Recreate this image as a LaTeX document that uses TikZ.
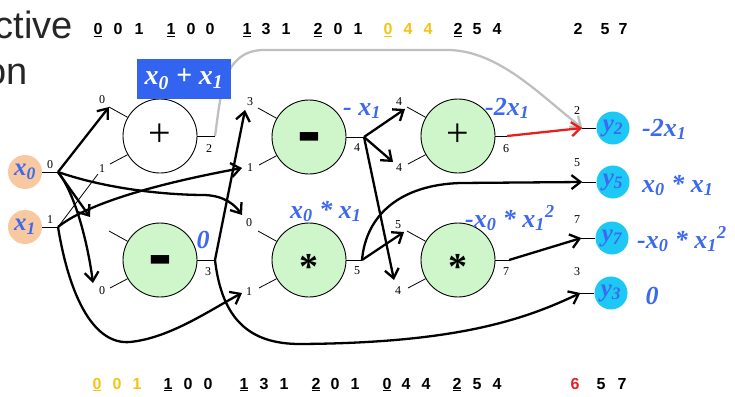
\documentclass[tikz,border=0pt]{standalone}
\usepackage{fontspec}
\setmainfont{Liberation Serif}
\newfontfamily\sansf{Liberation Sans}
\usetikzlibrary{arrows.meta,calc}

\definecolor{gatefill}{RGB}{206,246,202}
\definecolor{infill}{RGB}{248,200,160}
\definecolor{outfill}{RGB}{30,200,245}
\definecolor{exprblue}{RGB}{60,105,240}
\definecolor{boxblue}{RGB}{50,100,240}
\definecolor{seqyellow}{RGB}{245,195,20}
\definecolor{seqred}{RGB}{230,30,30}

\newcommand{\exprfont}{\fontsize{26}{26}\selectfont\bfseries\itshape}
\newcommand{\seqfont}{\sansf\fontsize{16}{16}\selectfont\bfseries}

\tikzset{
  gate/.style={circle, draw, line width=0.9pt, minimum size=74pt, inner sep=0pt, fill=gatefill},
  opsym/.style={anchor=base, inner sep=0pt},
  innode/.style={circle, fill=infill, minimum size=34pt, inner sep=0pt, text=exprblue, font=\fontsize{25}{25}\selectfont\bfseries\itshape},
  outnode/.style={circle, fill=outfill, minimum size=33pt, inner sep=0pt, text=exprblue, font=\fontsize{25}{25}\selectfont\bfseries\itshape},
  plbl/.style={inner sep=0pt, font=\fontsize{12}{12}\selectfont},
  expr/.style={inner sep=0pt, anchor=base west, text=exprblue, font=\exprfont},
  seqd/.style={inner sep=0pt, anchor=base, font=\seqfont},
  stub/.style={line width=0.8pt},
  wire/.style={line width=2.3pt, -{Straight Barb[length=9pt,width=14pt]}},
  thinwire/.style={line width=0.8pt},
  redwire/.style={wire, draw=seqred},
  graywire/.style={wire, draw=black!25},
  bigtxt/.style={inner sep=0pt, anchor=base east, font=\sansf\fontsize{38}{38}\selectfont, text=black!85},
  minussym/.style={opsym, font=\sansf\fontsize{72}{72}\selectfont\bfseries},
  plussym/.style={opsym, font=\fontsize{40}{40}\selectfont},
  starsym/.style={opsym, font=\fontsize{38}{38}\selectfont\bfseries},
}

\begin{document}
\begin{tikzpicture}[x=1pt, y=-1pt]
\useasboundingbox (0,0) rectangle (735,396);
\clip (0,0) rectangle (735,396);

% heading fragments at the left edge
\node[bigtxt] (hdrA) at (73,38) {ctive};
\node[bigtxt] (hdrB) at (28,84) {on};

% encoded instruction sequences
\foreach \x/\d/\c/\u [count=\k] in {
  98/0/black/1, 118/0/black/0, 139/1/black/0,
  171/1/black/1, 191/0/black/0, 210/0/black/0,
  247/1/black/1, 266/3/black/0, 286/1/black/0,
  318/2/black/1, 338/0/black/0, 358/1/black/0,
  388/0/seqyellow/1, 408/4/seqyellow/0, 428/4/seqyellow/0,
  458/2/black/1, 477/5/black/0, 497/4/black/0,
  578/2/black/0, 605/5/black/0, 623/7/black/0}
  \node[seqd, text=\c] (top\k) at (\x,35) {\ifnum\u=1 \underline{\d}\else\d\fi};

\foreach \x/\d/\c/\u [count=\k] in {
  97/0/seqyellow/1, 117/0/seqyellow/0, 137/1/seqyellow/0,
  168/1/black/1, 188/0/black/0, 208/0/black/0,
  244/1/black/1, 264/3/black/0, 284/1/black/0,
  316/2/black/1, 335/0/black/0, 355/1/black/0,
  387/0/black/1, 406/4/black/0, 426/4/black/0,
  457/2/black/1, 477/5/black/0, 497/4/black/0,
  575/6/seqred/0, 601/5/black/0, 622/7/black/0}
  \node[seqd, text=\c] (bot\k) at (\x,389) {\ifnum\u=1 \underline{\d}\else\d\fi};

% inputs
\node[innode] (X0) at (25,172) {x\textsubscript{0}};
\node[innode] (X1) at (25,227) {x\textsubscript{1}};
\coordinate (X0-o) at (58,172);
\coordinate (X1-o) at (58,227);
\draw[stub] (X0.east) -- (X0-o);
\draw[stub] (X1.east) -- (X1-o);
\node[plbl] (X0-l) at (50,165) {0};
\node[plbl] (X1-l) at (50,220) {1};

% gates
\node[gate, fill=white] (P1) at (160,136) {};
\node[gate] (M2) at (160,260) {};
\node[gate] (M1) at (309,137) {};
\node[gate] (S1) at (309,260) {};
\node[gate] (A2) at (458,136) {};
\node[gate] (S2) at (458,260) {};

\node[plussym] (P1s) at ($(P1)+(0,10)$) {+};
\node[minussym] (M2s) at ($(M2)+(0,18)$) {-};
\node[minussym] (M1s) at ($(M1)+(0,18)$) {-};
\node[starsym] (S1s) at ($(S1)+(0,19)$) {*};
\node[plussym] (A2s) at ($(A2)+(0,10)$) {+};
\node[starsym] (S2s) at ($(S2)+(0,19)$) {*};

% input and output stubs of every gate
\foreach \g/\o in {P1/55, M2/55, M1/55, S1/53, A2/49, S2/51} {
  \coordinate (\g-a) at ($(\g)+(-51,-29)$);
  \coordinate (\g-b) at ($(\g)+(-50,28)$);
  \coordinate (\g-o) at ($(\g)+(\o,0)$);
  \draw[stub] (\g.150) -- (\g-a);
  \draw[stub] (\g.210) -- (\g-b);
  \draw[stub] (\g.east) -- (\g-o);
}

% port numbers
\node[plbl] (P1-la) at (102,100) {0};
\node[plbl] (P1-lb) at (102,169) {1};
\node[plbl] (P1-lo) at (209,149) {2};
\node[plbl] (M2-lb) at (102,291) {0};
\node[plbl] (M2-lo) at (208,272) {3};
\node[plbl] (M1-la) at (250,102) {3};
\node[plbl] (M1-lb) at (250,168) {1};
\node[plbl] (M1-lo) at (357,148) {4};
\node[plbl] (S1-la) at (249,223) {0};
\node[plbl] (S1-lb) at (249,292) {1};
\node[plbl] (S1-lo) at (357,271) {5};
\node[plbl] (A2-la) at (399,102) {4};
\node[plbl] (A2-lb) at (399,168) {4};
\node[plbl] (A2-lo) at (506,149) {6};
\node[plbl] (S2-la) at (398,225) {5};
\node[plbl] (S2-lb) at (398,291) {4};
\node[plbl] (S2-lo) at (506,272) {7};

% outputs
\node[outnode] (Y2) at (613,128) {y\textsubscript{2}};
\node[outnode] (Y5) at (613,182) {y\textsubscript{5}};
\node[outnode] (Y7) at (612,238) {y\textsubscript{7}};
\node[outnode] (Y3) at (611,293) {y\textsubscript{3}};
\foreach \y in {Y2, Y5, Y7, Y3} {
  \coordinate (\y-i) at ($(\y.west)+(-14,0)$);
  \draw[stub] (\y-i) -- (\y.west);
}
\node[plbl] (Y2-l) at (577,111) {2};
\node[plbl] (Y5-l) at (577,163) {5};
\node[plbl] (Y7-l) at (577,220) {7};
\node[plbl] (Y3-l) at (577,272) {3};

% arrow ends that stop short of a port stub
\coordinate (M2-t) at (90,217);
\coordinate (M2-bt) at (93,283);
\coordinate (P1-bt) at (98,174);
\coordinate (M1-at) at (245,110);
\coordinate (M1-bt) at (242,168);
\coordinate (S1-at) at (242,215);
\coordinate (S1-bt) at (242,293);
\coordinate (A2-at) at (405,109);
\coordinate (A2-bt) at (393,162);
\coordinate (S2-at) at (404,232);
\coordinate (S2-bt) at (394,280);

% wires
\draw[graywire] (P1-o) .. controls (221,95) and (222,52) .. (262,50) -- (450,50)
  .. controls (500,52) and (540,95) .. (Y2-i);
\draw[wire] (X0-o) -- (P1-a);
\draw[wire] (X0-o) -- (M2-t);
\draw[wire] (X0-o) .. controls (76,195) and (88,245) .. (M2-bt);
\draw[wire] (X0-o) .. controls (110,190) and (170,195) .. (205,195)
  .. controls (225,196) and (235,205) .. (S1-at);
\draw[thinwire] (X1-o) -- (P1-bt);
\draw[wire] (X1-o) .. controls (85,205) and (150,185) .. (M1-bt);
\draw[wire] (X1-o) .. controls (70,300) and (95,345) .. (130,342)
  .. controls (170,338) and (210,310) .. (S1-bt);
\draw[wire] (M2-o) -- (M1-at);
\draw[wire] (M2-o) .. controls (222,320) and (250,344) .. (300,344)
  .. controls (450,343) and (520,322) .. (Y3-i);
\draw[wire] (M1-o) -- (A2-at);
\draw[wire] (M1-o) -- (A2-bt);
\draw[wire] (M1-o) -- (S2-bt);
\draw[wire] (S1-o) -- (S2-at);
\draw[wire] (S1-o) .. controls (366,215) and (400,185) .. (460,183) -- (Y5-i);
\draw[redwire] (A2-o) -- (Y2-i);
\draw[wire] (S2-o) -- (Y7-i);

% running expression of the sum gate
\node[fill=boxblue, minimum width=94pt, minimum height=40pt, inner sep=0pt,
      text=white, font=\fontsize{28}{28}\selectfont\bfseries\itshape] (sumbox) at (184,79)
  {x\textsubscript{0} + x\textsubscript{1}};

% expressions beside the gates
\node[expr] (M1-e) at (343,115) {- x\textsubscript{1}};
\node[expr] (A2-e) at (485,115) {-2x\textsubscript{1}};
\node[expr, anchor=base] (M2-e) at (203,248) {0};
\node[expr] (S1-e) at (290,218) {x\textsubscript{0} * x\textsubscript{1}};
\node[expr] (S2-e) at (465,227) {-x\textsubscript{0} * x\textsubscript{1}\textsuperscript{2}};

% expressions beside the outputs
\node[expr] (Y2-e) at (642,136) {-2x\textsubscript{1}};
\node[expr] (Y5-e) at (642,192) {x\textsubscript{0} * x\textsubscript{1}};
\node[expr] (Y7-e) at (637,248) {-x\textsubscript{0} * x\textsubscript{1}\textsuperscript{2}};
\node[expr, anchor=base] (Y3-e) at (652,304) {0};
\end{tikzpicture}
\end{document}
